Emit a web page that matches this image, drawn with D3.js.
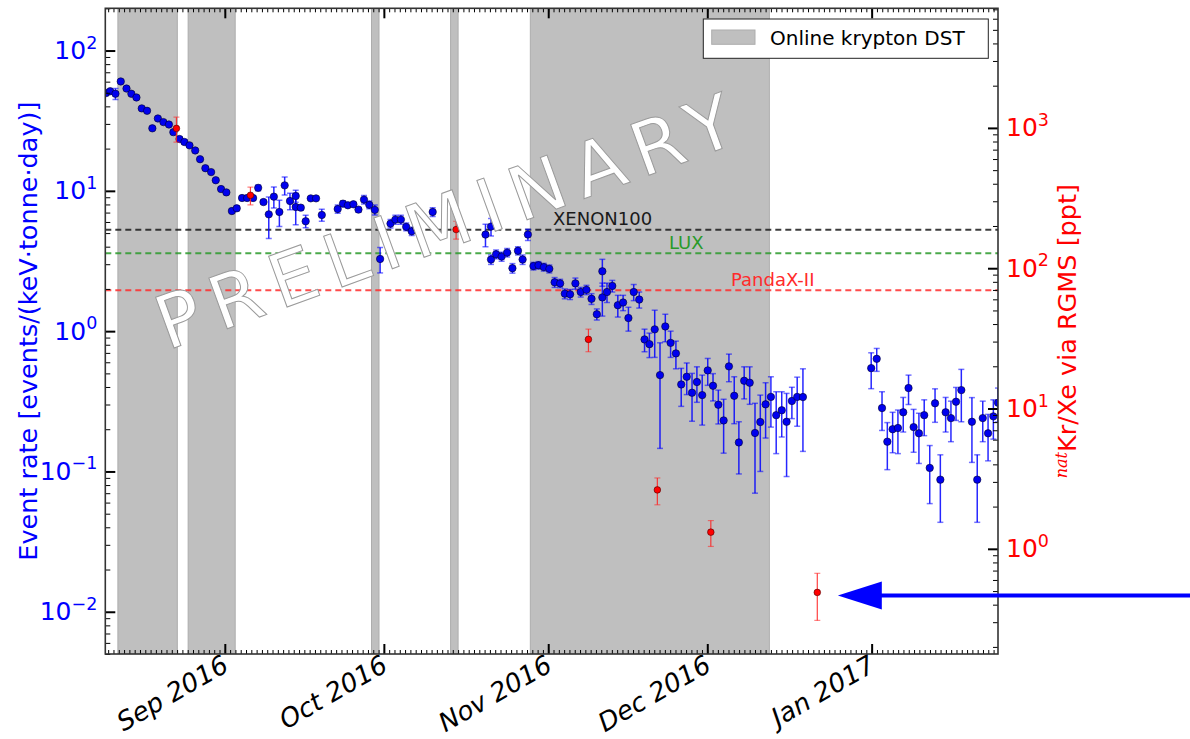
<!DOCTYPE html>
<html>
<head>
<meta charset="utf-8">
<script src="https://cdn.jsdelivr.net/npm/d3@7"></script>
<style>
  body { margin: 0; background: #fff; }
  text { font-family: "DejaVu Sans", sans-serif; }
</style>
</head>
<body>
<script>
// ---------------- data ----------------

// online krypton distillation periods (grey bands)
const bandStarts = ["2016-08-11 20", "2016-08-25 02", "2016-09-28 16", "2016-10-13 14", "2016-10-28 15"];
const bandEnds   = ["2016-08-23 01", "2016-09-02 23", "2016-09-30 02", "2016-10-15 00", "2016-12-12 17"];

// background-derived Kr rate, events/(keV tonne day)
const blueDates = [
  "2016-08-09 15","2016-08-10 09","2016-08-11 09","2016-08-12 09","2016-08-13 11","2016-08-14 09","2016-08-15 08","2016-08-16 08","2016-08-17 08","2016-08-18 08",
  "2016-08-19 09","2016-08-20 10","2016-08-21 11","2016-08-22 07","2016-08-23 11","2016-08-24 09","2016-08-25 08","2016-08-26 10","2016-08-27 08","2016-08-28 08",
  "2016-08-29 10","2016-08-30 07","2016-08-31 07","2016-09-01 07","2016-09-02 08","2016-09-03 06","2016-09-04 06","2016-09-05 05","2016-09-06 08","2016-09-07 07",
  "2016-09-08 07","2016-09-09 07","2016-09-10 06","2016-09-11 07","2016-09-12 07","2016-09-13 07","2016-09-14 09","2016-09-14 09","2016-09-15 08","2016-09-16 06",
  "2016-09-17 05","2016-09-18 05","2016-09-19 07","2016-09-22 07","2016-09-23 07","2016-09-24 05","2016-09-25 06","2016-09-26 05","2016-09-27 06","2016-09-28 06",
  "2016-09-29 07","2016-09-30 07","2016-10-02 06","2016-10-03 04","2016-10-04 05","2016-10-05 05","2016-10-06 06","2016-10-07 02","2016-10-10 05","2016-10-20 04",
  "2016-10-21 05","2016-10-21 05","2016-10-22 04","2016-10-23 05","2016-10-24 06","2016-10-25 06","2016-10-26 07","2016-10-27 04","2016-10-28 04","2016-10-29 05",
  "2016-10-30 04","2016-10-31 04","2016-11-01 05","2016-11-02 05","2016-11-03 06","2016-11-04 03","2016-11-05 03","2016-11-06 03","2016-11-07 03","2016-11-08 05",
  "2016-11-09 04","2016-11-10 04","2016-11-11 05","2016-11-11 05","2016-11-12 02","2016-11-13 02","2016-11-14 03","2016-11-15 03","2016-11-16 03","2016-11-17 03",
  "2016-11-18 04","2016-11-19 04","2016-11-20 02","2016-11-21 02","2016-11-22 02","2016-11-23 02","2016-11-24 02","2016-11-25 02","2016-11-26 02","2016-11-27 03",
  "2016-11-28 03","2016-11-29 01","2016-11-30 01","2016-12-01 02","2016-12-02 02","2016-12-03 02","2016-12-04 02","2016-12-05 02","2016-12-06 02","2016-12-06 23",
  "2016-12-07 23","2016-12-09 00","2016-12-10 00","2016-12-11 00","2016-12-12 00","2016-12-13 00","2016-12-14 00","2016-12-15 01","2016-12-15 23","2016-12-16 23",
  "2016-12-17 23","2016-12-19 01","2016-12-31 22","2017-01-01 23","2017-01-02 23","2017-01-03 23","2017-01-04 23","2017-01-05 23","2017-01-06 23","2017-01-07 23",
  "2017-01-08 22","2017-01-09 22","2017-01-10 22","2017-01-11 23","2017-01-12 23","2017-01-13 23","2017-01-14 23","2017-01-15 23","2017-01-16 22","2017-01-17 22",
  "2017-01-19 22","2017-01-20 22","2017-01-21 23","2017-01-22 23","2017-01-23 23","2017-01-24 20"
];
const blueRates = [
  49.8, 51.3, 49.2, 60.2, 53.6, 49.2, 46.3, 38.7, 37.2, 27.9,
  32.8, 30.9, 29.7, 26.2, 23.4, 22.3, 21.1, 19.4, 16.8, 14.5,
  13.6, 11.9, 10.3, 9.75, 7.18, 7.51, 8.89, 8.89, 8.89, 10.5,
  8.32, 6.80, 9.09, 7.07, 10.94, 8.46, 9.18, 7.67, 7.59, 6.07,
  8.84, 8.84, 6.73, 7.42, 8.11, 7.89, 8.02, 7.35, 8.66, 7.95,
  7.32, 3.27, 5.84, 6.24, 6.24, 5.54, 5.15, 5.45, 7.07, 4.88,
  5.56, 3.24, 3.53, 3.40, 3.63, 2.81, 3.74, 3.24, 4.88, 2.91,
  2.95, 2.86, 2.78, 2.23, 2.19, 1.85, 1.83, 2.19, 1.90, 1.97,
  1.70, 1.32, 2.67, 1.74, 1.90, 2.10, 1.53, 1.60, 1.24, 1.90,
  1.68, 0.873, 0.808, 1.03, 0.486, 1.08, 0.825, 0.694, 0.417, 0.473,
  0.364, 0.434, 0.350, 0.525, 0.408, 0.299, 0.231, 0.561, 0.346, 0.161,
  0.443, 0.429, 0.188, 0.225, 0.301, 0.340, 0.252, 0.273, 0.226, 0.318,
  0.340, 0.339, 0.545, 0.635, 0.283, 0.163, 0.200, 0.204, 0.264, 0.393,
  0.207, 0.187, 0.252, 0.106, 0.306, 0.0874, 0.264, 0.240, 0.314, 0.380,
  0.226, 0.0874, 0.240, 0.187, 0.247, 0.309
];
const blueErrors = [
  1.2, 1.2, 4.4, 1.4, 1.3, 1.2, 1.1, 0.9, 0.9, 0.7,
  0.8, 0.7, 0.7, 0.6, 0.8, 0.8, 0.5, 0.5, 0.4, 0.35,
  0.33, 0.3, 0.25, 0.25, 0.2, 0.3, 0.3, 0.3, 0.3, 0.5,
  0.25, 2.23, 1.55, 1.5, 1.6, 1.14, 0.9, 1.93, 0.25, 0.62,
  0.25, 0.25, 0.65, 0.5, 0.4, 0.25, 0.25, 0.3, 0.6, 0.5,
  0.6, 0.67, 0.4, 0.45, 0.45, 0.35, 0.35, 0.35, 0.5, 0.89,
  0.8, 0.25, 0.25, 0.25, 0.25, 0.22, 0.25, 0.25, 0.45, 0.18,
  0.18, 0.18, 0.18, 0.18, 0.15, 0.15, 0.15, 0.2, 0.15, 0.15,
  0.15, 0.12, 0.58, 0.46, 0.3, 0.2, 0.27, 0.2, 0.24, 0.25,
  0.22, 0.16, 0.16, 0.38, 0.34, 0.24, 0.175, 0.155, 0.126, 0.12,
  0.136, 0.123, 0.136, 0.114, 0.09, 0.081, 0.096, 0.125, 0.127, 0.065,
  0.114, 0.128, 0.118, 0.125, 0.128, 0.133, 0.118, 0.097, 0.134, 0.08,
  0.13, 0.2, 0.156, 0.118, 0.087, 0.06, 0.064, 0.07, 0.073, 0.093,
  0.07, 0.073, 0.072, 0.047, 0.082, 0.044, 0.073, 0.077, 0.083, 0.154,
  0.11, 0.044, 0.077, 0.068, 0.077, 0.084
];

// RGMS measurements, natKr/Xe in ppt (right axis)
const rgmsDates  = ["2016-08-22 21", "2016-09-05 20", "2016-10-14 15", "2016-11-08 14", "2016-11-21 14", "2016-12-01 16", "2016-12-21 18"];
const rgmsPpt    = [992, 331, 188.6, 31.1, 2.63, 1.315, 0.489];
const rgmsErrors = [200, 48, 27.5, 5.7, 0.57, 0.275, 0.18];

// other experiments, events/(keV tonne day)
const limitNames  = ["XENON100", "LUX", "PandaX-II"];
const limitRates  = [5.29, 3.59, 1.96];
const limitColors = ["#1a1a1a", "#2a9a2a", "#ff2b2b"];

// final target arrow (ppt) pointing back from the right
const arrowPpt = 0.465;
const arrowTipDate = "2016-12-25 15";

// axes
const rateDomain = [5e-3, 200];
const pptPerRate = 35.6;
const xStart = "2016-08-09 11", xEnd = "2017-01-24 20";

// ---------------- drawing ----------------
const parseTime = d3.timeParse("%Y-%m-%d %H");
const W = 1190, H = 739;
const box = {left: 105.3, top: 8.3, right: 998, bottom: 654};
const pw = box.right - box.left, ph = box.bottom - box.top;

const svg = d3.select("body").append("svg")
    .attr("width", W).attr("height", H);
svg.append("defs").append("clipPath").attr("id", "clip")
  .append("rect").attr("width", pw).attr("height", ph);

const g = svg.append("g").attr("transform", `translate(${box.left},${box.top})`);
const plot = g.append("g").attr("clip-path", "url(#clip)");

const x = d3.scaleTime().domain([parseTime(xStart), parseTime(xEnd)]).range([0, pw]);
const y = d3.scaleLog().domain(rateDomain).range([ph, 0]);
const yR = d3.scaleLog().domain(rateDomain.map(v => v * pptPerRate)).range([ph, 0]);

// grey bands
plot.selectAll("rect.band").data(bandStarts.map((s, i) => [parseTime(s), parseTime(bandEnds[i])]))
  .join("rect").attr("class", "band")
    .attr("x", d => x(d[0])).attr("width", d => x(d[1]) - x(d[0]))
    .attr("y", 0).attr("height", ph)
    .attr("fill", "#bfbfbf").attr("stroke", "#adadad").attr("stroke-width", 1);

// dashed limit lines
limitRates.forEach((v, i) => {
  plot.append("line")
      .attr("x1", 0).attr("x2", pw).attr("y1", y(v)).attr("y2", y(v))
      .attr("stroke", limitColors[i]).attr("stroke-opacity", 0.85)
      .attr("stroke-width", 2).attr("stroke-dasharray", "6,4");
});
const limitLabelX = [447.7, 563.7, 625.7];
limitNames.forEach((name, i) => {
  plot.append("text")
      .attr("x", limitLabelX[i]).attr("y", y(limitRates[i]) - 4.5)
      .attr("font-size", 18).attr("fill", limitColors[i]).text(name);
});

// blue points with error bars
const blue = blueDates.map((d, i) => ({t: parseTime(d), v: blueRates[i], e: blueErrors[i]}));
function errorBars(sel, data, scale, color, width, cap) {
  const gg = sel.append("g");
  gg.selectAll("line.bar").data(data).join("line")
      .attr("x1", d => x(d.t)).attr("x2", d => x(d.t))
      .attr("y1", d => scale(d.v + d.e)).attr("y2", d => scale(Math.max(d.v - d.e, 1e-4)))
      .attr("stroke", color).attr("stroke-width", width).attr("stroke-opacity", 0.85);
  ["top", "bot"].forEach(side => {
    gg.selectAll("line.cap" + side).data(data).join("line")
        .attr("x1", d => x(d.t) - cap).attr("x2", d => x(d.t) + cap)
        .attr("y1", d => scale(side === "top" ? d.v + d.e : Math.max(d.v - d.e, 1e-4)))
        .attr("y2", d => scale(side === "top" ? d.v + d.e : Math.max(d.v - d.e, 1e-4)))
        .attr("stroke", color).attr("stroke-width", width).attr("stroke-opacity", 0.55);
  });
}
errorBars(plot, blue, y, "#0000ff", 1.5, 3);
plot.append("g").selectAll("circle").data(blue).join("circle")
    .attr("cx", d => x(d.t)).attr("cy", d => y(d.v)).attr("r", 3.7)
    .attr("fill", "#0000ee").attr("stroke", "#00002a").attr("stroke-width", 0.6);

// red RGMS points
const red = rgmsDates.map((d, i) => ({t: parseTime(d), v: rgmsPpt[i], e: rgmsErrors[i]}));
errorBars(plot, red, yR, "#ff2020", 1.2, 3);
plot.append("g").selectAll("circle").data(red).join("circle")
    .attr("cx", d => x(d.t)).attr("cy", d => yR(d.v)).attr("r", 3.3)
    .attr("fill", "#ff0000").attr("stroke", "#4a0000").attr("stroke-width", 0.6);

// watermark
g.append("text")
    .attr("transform", "translate(354,236) rotate(-20)")
    .attr("text-anchor", "middle")
    .attr("font-size", 74).attr("letter-spacing", 12)
    .attr("fill", "#ffffff").attr("stroke", "#9a9a9a").attr("stroke-width", 1)
    .text("PRELIMINARY");

// ---------- axes ----------
function decades(lo, hi) {
  const out = [];
  for (let e = Math.ceil(Math.log10(lo) - 1e-9); e <= Math.floor(Math.log10(hi) + 1e-9); e++) out.push(e);
  return out;
}
function logMinors(lo, hi) {
  const out = [];
  for (let e = Math.floor(Math.log10(lo)); e <= Math.ceil(Math.log10(hi)); e++)
    for (let m = 2; m <= 9; m++) { const v = m * Math.pow(10, e); if (v >= lo && v <= hi) out.push(v); }
  return out;
}
function powLabels(axisG, color) {
  axisG.selectAll(".tick text").each(function(d) {
    const k = Math.round(Math.log10(d));
    const t = d3.select(this).text("10").attr("fill", color).attr("font-size", 25);
    t.append("tspan").attr("dy", "-0.6em").attr("font-size", 17.5).text(k < 0 ? "\u2212" + (-k) : String(k));
  });
}
function styleAxis(a, w) {
  a.select(".domain").remove();
  a.selectAll(".tick line").attr("stroke", "#000").attr("stroke-width", w);
}

const yMaj = decades(...rateDomain).map(e => Math.pow(10, e));
const yl = g.append("g").call(d3.axisLeft(y).tickValues(yMaj).tickSizeInner(-10).tickSizeOuter(0).tickPadding(8));
styleAxis(yl, 2); powLabels(yl, "#0000ff");
styleAxis(g.append("g").call(d3.axisLeft(y).tickValues(logMinors(...rateDomain)).tickSize(-5).tickFormat("")), 1);

const rDom = yR.domain();
const yrMaj = decades(...rDom).map(e => Math.pow(10, e));
const yr = g.append("g").attr("transform", `translate(${pw},0)`)
  .call(d3.axisRight(yR).tickValues(yrMaj).tickSizeInner(-10).tickSizeOuter(0).tickPadding(8));
styleAxis(yr, 2); powLabels(yr, "#ff0000");
styleAxis(g.append("g").attr("transform", `translate(${pw},0)`)
  .call(d3.axisRight(yR).tickValues(logMinors(...rDom)).tickSize(-5).tickFormat("")), 1);

const months = d3.timeMonth.range(...x.domain());
const days = d3.timeDay.range(...x.domain());
const xb = g.append("g").attr("transform", `translate(0,${ph})`)
  .call(d3.axisBottom(x).tickValues(months).tickSizeInner(-10).tickSizeOuter(0).tickFormat(d3.timeFormat("%b %Y")));
styleAxis(xb, 2);
xb.selectAll(".tick text")
    .attr("font-size", 26).attr("font-style", "italic").attr("fill", "#000").attr("text-anchor", "end")
    .attr("dy", null).attr("y", null)
    .attr("transform", "translate(5,16) rotate(-30)");
styleAxis(g.append("g").attr("transform", `translate(0,${ph})`)
  .call(d3.axisBottom(x).tickValues(days).tickSize(-4).tickFormat("")), 1);
styleAxis(g.append("g").call(d3.axisTop(x).tickValues(months).tickSize(-10).tickFormat("")), 2);
styleAxis(g.append("g").call(d3.axisTop(x).tickValues(days).tickSize(-4).tickFormat("")), 1);

// frame
g.append("rect").attr("width", pw).attr("height", ph)
    .attr("fill", "none").attr("stroke", "#333").attr("stroke-width", 1.6);

// axis titles
svg.append("text")
    .attr("transform", `translate(37,${box.top + ph / 2}) rotate(-90)`)
    .attr("text-anchor", "middle").attr("font-size", 25.5).attr("fill", "#0000ff")
    .text("Event rate [events/(keV\u00b7tonne\u00b7day)]");
const rt = svg.append("text")
    .attr("transform", `translate(1076,${box.top + ph / 2}) rotate(-90)`)
    .attr("text-anchor", "middle").attr("font-size", 25.5).attr("fill", "#ff0000");
rt.append("tspan").attr("font-family", "DejaVu Serif").attr("font-style", "italic")
    .attr("font-size", 16).attr("dy", -9).text("nat");
rt.append("tspan").attr("dy", 9).text("Kr/Xe via RGMS [ppt]");

// legend
const lg = svg.append("g").attr("transform", "translate(703.3,19)");
lg.append("rect").attr("width", 285).attr("height", 39.3)
    .attr("fill", "#fff").attr("stroke", "#222").attr("stroke-width", 1);
lg.append("rect").attr("x", 8.4).attr("y", 11).attr("width", 43.3).attr("height", 14.3)
    .attr("fill", "#bfbfbf").attr("stroke", "#adadad");
lg.append("text").attr("x", 66.7).attr("y", 25.5).attr("font-size", 20).attr("fill", "#000")
    .text("Online krypton DST");

// arrow toward the last RGMS point
const ax = box.left + x(parseTime(arrowTipDate)), ay = box.top + yR(arrowPpt);
svg.append("line").attr("x1", ax + 40).attr("x2", W).attr("y1", ay).attr("y2", ay)
    .attr("stroke", "#0000ff").attr("stroke-width", 4);
svg.append("path")
    .attr("d", `M${ax},${ay} L${ax + 44},${ay - 14} L${ax + 44},${ay + 14} Z`)
    .attr("fill", "#0000ff");
</script>
</body>
</html>
